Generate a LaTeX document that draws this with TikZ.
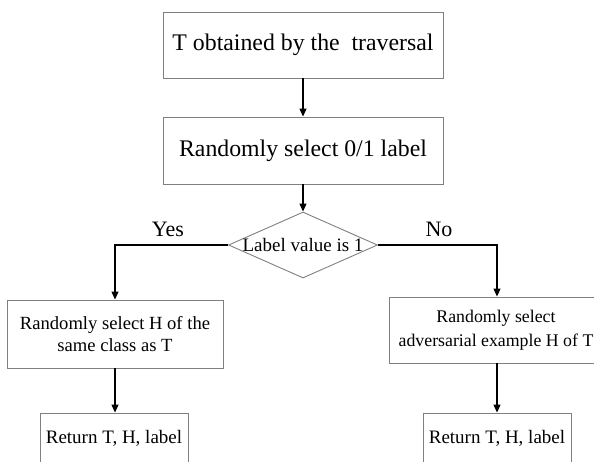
\documentclass[tikz,border=0pt]{standalone}
\usepackage{fontspec}
\setmainfont{Liberation Serif}
\usetikzlibrary{shapes.geometric,arrows.meta}
\tikzset{
  stepbox/.style={draw=black!50, line width=0.9pt, fill=white, inner sep=0pt, align=center},
  decision/.style={diamond, draw=black!50, line width=0.9pt, inner sep=0pt, minimum width=149pt, minimum height=66pt, aspect=2.26},
  flow/.style={draw=black, line width=1.1pt, -{Triangle[length=8pt,width=7pt]}},
  branchlabel/.style={font=\fontsize{22}{24}\selectfont, inner sep=0pt}
}
\begin{document}
\begin{tikzpicture}[x=1pt,y=-1pt]
  \clip (0,0) rectangle (594,461);
  \fill[white] (0,0) rectangle (594,461);

  % main column
  \node[stepbox, minimum width=280pt, minimum height=66pt, font=\fontsize{23.8}{26}\selectfont] (start) at (303,45) {T obtained by the~ traversal};
  \node[stepbox, minimum width=280pt, minimum height=67pt, font=\fontsize{23.8}{26}\selectfont] (pick) at (303,150.5) {Randomly select 0/1 label};
  \node[decision] (test) at (303,245) {};
  \node[inner sep=0pt, font=\fontsize{19}{20}\selectfont] (testtext) at (303,245) {Label value is 1};

  % branches
  \node[stepbox, minimum width=216pt, minimum height=68pt, font=\fontsize{18.6}{22}\selectfont] (same) at (115,334) {Randomly select H of the\\same class as T};
  \node[stepbox, minimum width=216pt, minimum height=66pt] (adv) at (497,330) {};
  \node[inner sep=0pt, align=center, font=\fontsize{17.8}{24}\selectfont] (advtext) at (496,330) {Randomly select\\adversarial example H of T};
  \node[stepbox, minimum width=148pt, minimum height=50pt, font=\fontsize{19}{22}\selectfont] (retl) at (114,438) {Return T, H, label};
  \node[stepbox, minimum width=148pt, minimum height=50pt, font=\fontsize{19}{22}\selectfont] (retr) at (497,438) {Return T, H, label};

  % connectors
  \draw[flow] (start.south) -- (pick.north);
  \draw[flow] (pick.south) -- (test.north);
  \coordinate (yesbend) at (115,245);
  \coordinate (nobend) at (497,245);
  \draw[flow] (test.west) -- (yesbend) -- (same.north);
  \draw[flow] (test.east) -- (nobend) -- (adv.north);
  \draw[flow] (same.south) -- (retl.north -| same.south);
  \draw[flow] (adv.south) -- (retr.north);

  % branch labels
  \node[branchlabel] (yes) at (168,229) {Yes};
  \node[branchlabel] (no) at (439,229) {No};
\end{tikzpicture}
\end{document}
